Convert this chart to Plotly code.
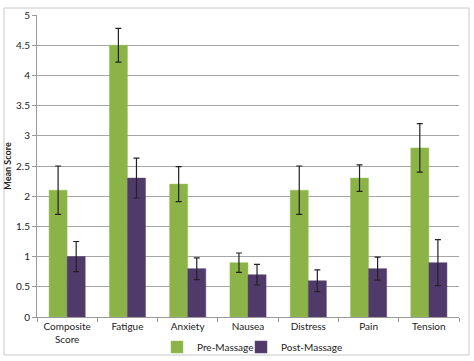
import plotly.graph_objects as go

categories = ["Composite<br>Score", "Fatigue", "Anxiety", "Nausea", "Distress", "Pain", "Tension"]
pre_values = [2.1, 4.5, 2.2, 0.9, 2.1, 2.3, 2.8]
pre_errors = [0.4, 0.28, 0.29, 0.16, 0.4, 0.22, 0.4]
post_values = [1.0, 2.3, 0.8, 0.7, 0.6, 0.8, 0.9]
post_errors = [0.25, 0.33, 0.18, 0.17, 0.18, 0.19, 0.38]
y_ticks = [0, 0.5, 1, 1.5, 2, 2.5, 3, 3.5, 4, 4.5, 5]

W, H = 474, 361
L, R, T, B = 37, 15, 15, 44
pw, ph = W - L - R, H - T - B

font = "Lato, 'Open Sans', sans-serif"
fig = go.Figure()
fig.add_trace(go.Bar(
    x=categories, y=pre_values, name="Pre-Massage", legend="legend", showlegend=True,
    marker=dict(color="#8BB347", line=dict(color="#9cc45a", width=0.5)),
    error_y=dict(type="data", array=pre_errors, color="#222222", thickness=1.2, width=3),
))
fig.add_trace(go.Bar(
    x=categories, y=post_values, name="Post-Massage", legend="legend2", showlegend=True,
    marker=dict(color="#4F3A6A", line=dict(color="#5d4878", width=0.5)),
    error_y=dict(type="data", array=post_errors, color="#222222", thickness=1.2, width=3),
))
leg_common = dict(orientation="h", xanchor="left", yref="container",
                  y=1 - 347 / H, yanchor="middle", font=dict(size=10),
                  itemwidth=30, bgcolor="rgba(0,0,0,0)", visible=True)
fig.update_layout(
    width=W, height=H,
    showlegend=True,
    margin=dict(l=L, r=R, t=T, b=B, autoexpand=False),
    paper_bgcolor="white", plot_bgcolor="white",
    barmode="group", bargap=0.4, bargroupgap=0,
    font=dict(family=font, size=10, color="#222222"),
    legend=dict(x=(157 - L) / pw, **leg_common),
    legend2=dict(x=(241 - L) / pw, **leg_common),
    xaxis=dict(showline=True, linecolor="#999999", linewidth=1, automargin=False,
               ticks="outside", tickson="boundaries", tickcolor="#999999", ticklen=4,
               tickfont=dict(size=10)),
    yaxis=dict(range=[0, 5], tickvals=y_ticks, ticktext=[f"{v:g}" for v in y_ticks],
               showline=True, linecolor="#999999", linewidth=1, automargin=False,
               showgrid=True, gridcolor="#a6a6a6", gridwidth=1,
               ticks="outside", tickcolor="#999999", ticklen=4,
               tickfont=dict(size=10),
               title=dict(text="<b>Mean Score</b>", font=dict(size=9), standoff=2)),
    shapes=[dict(type="rect", xref="paper", yref="paper",
                 x0=(4 - L) / pw, x1=(469 - L) / pw,
                 y0=(H - B - 355) / ph, y1=(H - B - 8) / ph,
                 line=dict(color="#c8c8c8", width=1))],
)
fig.write_html("out.html", config={"displayModeBar": False},
               post_script="document.body.style.margin='0';")
